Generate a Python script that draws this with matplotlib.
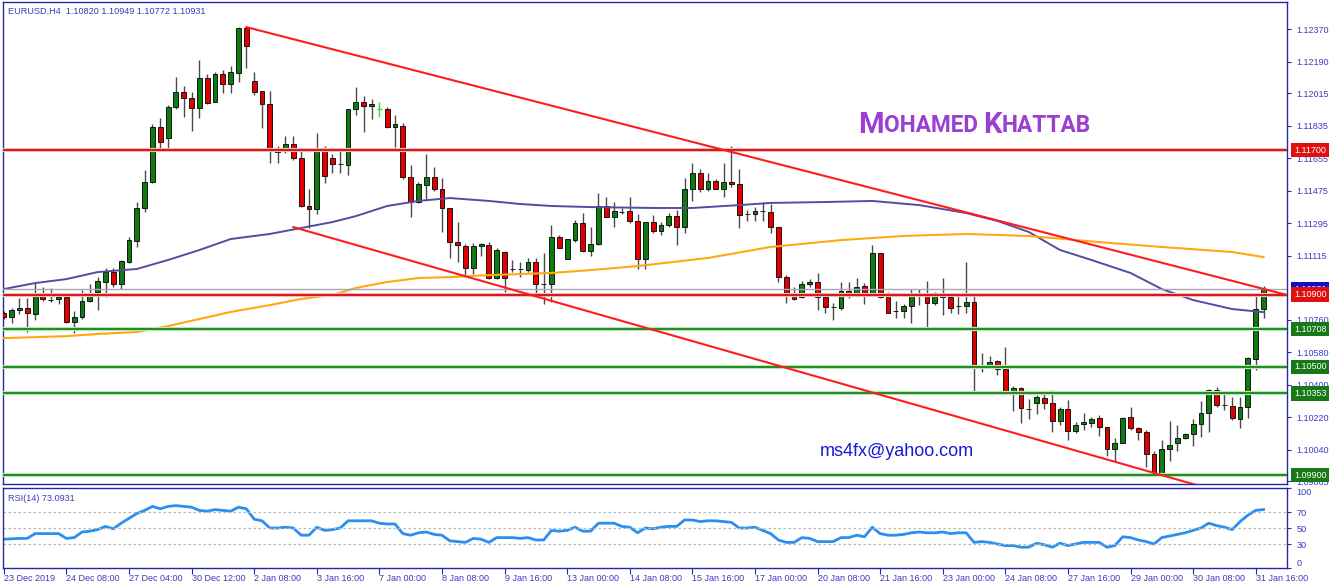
import matplotlib.pyplot as plt
import numpy as np

plt.rcParams['font.family'] = ['Liberation Sans', 'DejaVu Sans']

# EURUSD H4 candles
opens = [1.10798, 1.10776, 1.10815, 1.10826, 1.10793, 1.10903, 1.10872, 1.10876, 1.10887, 1.10748,
         1.10776, 1.10864, 1.10914, 1.10970, 1.11025, 1.10959, 1.11081, 1.11197, 1.11380, 1.11524,
         1.11828, 1.11767, 1.11939, 1.12022, 1.11989, 1.11933, 1.12100, 1.11967, 1.12122, 1.12067,
         1.12128, 1.12377, 1.12083, 1.12028, 1.11956, 1.11695, 1.11701, 1.11734, 1.11657, 1.11391,
         1.11374, 1.11712, 1.11657, 1.11625, 1.11618, 1.11928, 1.11967, 1.11945, 1.11928, 1.11928,
         1.11828, 1.11834, 1.11551, 1.11413, 1.11507, 1.11551, 1.11485, 1.11380, 1.11191, 1.11169,
         1.11047, 1.11169, 1.11175, 1.10992, 1.11136, 1.11042, 1.11041, 1.11036, 1.11081, 1.10959,
         1.10959, 1.11219, 1.11097, 1.11202, 1.11297, 1.11142, 1.11180, 1.11391, 1.11330, 1.11358,
         1.11363, 1.11308, 1.11097, 1.11302, 1.11252, 1.11285, 1.11335, 1.11274, 1.11485, 1.11574,
         1.11485, 1.11529, 1.11485, 1.11524, 1.11513, 1.11347, 1.11346, 1.11363, 1.11358, 1.11274,
         1.10997, 1.10903, 1.10887, 1.10959, 1.10970, 1.10887, 1.10832, 1.10826, 1.10920, 1.10903,
         1.10948, 1.10903, 1.11130, 1.10909, 1.10810, 1.10809, 1.10837, 1.10903, 1.10892, 1.10853,
         1.10909, 1.10887, 1.10838, 1.10837, 1.10859, 1.10505, 1.10504, 1.10532, 1.10488, 1.10355,
         1.10383, 1.10267, 1.10299, 1.10327, 1.10299, 1.10200, 1.10266, 1.10144, 1.10183, 1.10189,
         1.10216, 1.10166, 1.10045, 1.10078, 1.10222, 1.10161, 1.10139, 1.10017, 1.09912, 1.10045,
         1.10078, 1.10106, 1.10128, 1.10183, 1.10244, 1.10371, 1.10289, 1.10283, 1.10211, 1.10277,
         1.10543, 1.10820]
highs = [1.10809, 1.10826, 1.10881, 1.10881, 1.10964, 1.10942, 1.10936, 1.10887, 1.10887, 1.10809,
         1.10925, 1.10959, 1.10997, 1.11047, 1.11047, 1.11092, 1.11219, 1.11413, 1.11590, 1.11845,
         1.11878, 1.11950, 1.12105, 1.12055, 1.12022, 1.12200, 1.12122, 1.12133, 1.12144, 1.12166,
         1.12382, 1.12382, 1.12133, 1.12028, 1.12028, 1.11723, 1.11779, 1.11779, 1.11712, 1.11485,
         1.11795, 1.11723, 1.11679, 1.11706, 1.11928, 1.12050, 1.12000, 1.11983, 1.11967, 1.11939,
         1.11895, 1.11851, 1.11618, 1.11524, 1.11679, 1.11607, 1.11546, 1.11380, 1.11302, 1.11180,
         1.11186, 1.11186, 1.11191, 1.11158, 1.11142, 1.11092, 1.11081, 1.11103, 1.11103, 1.11130,
         1.11285, 1.11230, 1.11208, 1.11313, 1.11352, 1.11274, 1.11463, 1.11441, 1.11413, 1.11380,
         1.11441, 1.11346, 1.11302, 1.11341, 1.11302, 1.11352, 1.11369, 1.11546, 1.11629, 1.11596,
         1.11574, 1.11540, 1.11629, 1.11723, 1.11596, 1.11369, 1.11385, 1.11413, 1.11402, 1.11274,
         1.11008, 1.10942, 1.10975, 1.10986, 1.11020, 1.10898, 1.10853, 1.10970, 1.10970, 1.10992,
         1.10964, 1.11175, 1.11130, 1.10914, 1.10864, 1.10848, 1.10931, 1.10931, 1.10975, 1.10914,
         1.10992, 1.10909, 1.10909, 1.11081, 1.10903, 1.10576, 1.10560, 1.10538, 1.10610, 1.10394,
         1.10388, 1.10321, 1.10343, 1.10349, 1.10371, 1.10277, 1.10316, 1.10194, 1.10244, 1.10222,
         1.10233, 1.10166, 1.10106, 1.10222, 1.10277, 1.10166, 1.10150, 1.10033, 1.10094, 1.10200,
         1.10178, 1.10133, 1.10211, 1.10310, 1.10377, 1.10388, 1.10349, 1.10332, 1.10332, 1.10554,
         1.10903, 1.10949]
lows = [1.10765, 1.10743, 1.10793, 1.10693, 1.10759, 1.10864, 1.10859, 1.10848, 1.10743, 1.10687,
        1.10765, 1.10859, 1.10815, 1.10887, 1.10942, 1.10931, 1.11075, 1.11164, 1.11358, 1.11518,
        1.11706, 1.11706, 1.11928, 1.11884, 1.11806, 1.11878, 1.11956, 1.11967, 1.12017, 1.12017,
        1.12078, 1.12155, 1.12006, 1.11823, 1.11629, 1.11629, 1.11684, 1.11646, 1.11385, 1.11269,
        1.11346, 1.11518, 1.11574, 1.11574, 1.11563, 1.11895, 1.11801, 1.11873, 1.11884, 1.11823,
        1.11718, 1.11540, 1.11330, 1.11407, 1.11430, 1.11474, 1.11247, 1.11103, 1.11081, 1.11008,
        1.11014, 1.11114, 1.10986, 1.10986, 1.10914, 1.11025, 1.10997, 1.11025, 1.10909, 1.10848,
        1.10859, 1.11158, 1.11097, 1.11191, 1.11136, 1.11114, 1.11175, 1.11330, 1.11274, 1.11346,
        1.11297, 1.11042, 1.11042, 1.11241, 1.11230, 1.11274, 1.11175, 1.11241, 1.11419, 1.11468,
        1.11474, 1.11485, 1.11441, 1.11496, 1.11269, 1.11308, 1.11308, 1.11308, 1.11241, 1.10970,
        1.10853, 1.10870, 1.10881, 1.10942, 1.10815, 1.10798, 1.10759, 1.10815, 1.10881, 1.10898,
        1.10848, 1.10898, 1.10881, 1.10798, 1.10770, 1.10770, 1.10743, 1.10842, 1.10704, 1.10842,
        1.10787, 1.10798, 1.10793, 1.10798, 1.10360, 1.10471, 1.10499, 1.10455, 1.10355, 1.10255,
        1.10189, 1.10211, 1.10238, 1.10266, 1.10139, 1.10178, 1.10094, 1.10133, 1.10150, 1.10166,
        1.10117, 1.10006, 1.09978, 1.10078, 1.10150, 1.10094, 1.09945, 1.09912, 1.09912, 1.09978,
        1.10033, 1.10100, 1.10061, 1.10111, 1.10139, 1.10277, 1.10261, 1.10205, 1.10161, 1.10216,
        1.10482, 1.10772]
closes = [1.10776, 1.10815, 1.10826, 1.10798, 1.10903, 1.10876, 1.10870, 1.10887, 1.10748, 1.10776,
          1.10864, 1.10909, 1.10975, 1.11025, 1.10959, 1.11086, 1.11202, 1.11380, 1.11524, 1.11828,
          1.11745, 1.11939, 1.12022, 1.11989, 1.11933, 1.12100, 1.11961, 1.12122, 1.12067, 1.12133,
          1.12377, 1.12277, 1.12022, 1.11956, 1.11695, 1.11692, 1.11734, 1.11657, 1.11391, 1.11374,
          1.11712, 1.11557, 1.11623, 1.11623, 1.11928, 1.11967, 1.11945, 1.11956, 1.11928, 1.11828,
          1.11845, 1.11551, 1.11413, 1.11513, 1.11551, 1.11485, 1.11380, 1.11191, 1.11175, 1.11047,
          1.11169, 1.11180, 1.10992, 1.11147, 1.10992, 1.11041, 1.11040, 1.11081, 1.10959, 1.10958,
          1.11219, 1.11158, 1.11208, 1.11297, 1.11142, 1.11180, 1.11391, 1.11330, 1.11363, 1.11357,
          1.11308, 1.11097, 1.11302, 1.11252, 1.11285, 1.11335, 1.11274, 1.11485, 1.11574, 1.11485,
          1.11529, 1.11485, 1.11524, 1.11513, 1.11341, 1.11346, 1.11363, 1.11362, 1.11274, 1.10997,
          1.10903, 1.10876, 1.10959, 1.10970, 1.10887, 1.10831, 1.10831, 1.10920, 1.10903, 1.10942,
          1.10903, 1.11130, 1.10887, 1.10798, 1.10809, 1.10837, 1.10903, 1.10892, 1.10853, 1.10909,
          1.10887, 1.10826, 1.10837, 1.10859, 1.10504, 1.10504, 1.10527, 1.10488, 1.10355, 1.10383,
          1.10272, 1.10266, 1.10332, 1.10299, 1.10200, 1.10266, 1.10144, 1.10178, 1.10194, 1.10211,
          1.10166, 1.10045, 1.10078, 1.10216, 1.10161, 1.10139, 1.10017, 1.09912, 1.10045, 1.10067,
          1.10106, 1.10128, 1.10183, 1.10244, 1.10371, 1.10288, 1.10288, 1.10216, 1.10277, 1.10549,
          1.10820, 1.10931]

# moving averages (sampled along the line)
ma_slow_bars = [0, 4, 8, 12, 17, 21, 25, 29, 34, 38, 42, 45, 49, 53, 57, 62, 66, 70, 75, 83, 88, 94,
                98, 105, 111, 117, 123, 127, 131, 135, 139, 144, 148, 152, 157, 161]
ma_slow = [1.10931, 1.10964, 1.10986, 1.11025, 1.11042, 1.11092, 1.11147, 1.11208, 1.11236, 1.11269,
           1.11302, 1.11335, 1.11391, 1.11419, 1.11435, 1.11419, 1.11402, 1.11391, 1.11385, 1.11380,
           1.11380, 1.11396, 1.11408, 1.11413, 1.11419, 1.11396, 1.11352, 1.11308, 1.11247, 1.11147,
           1.11092, 1.11020, 1.10931, 1.10870, 1.10820, 1.10803]
ma_long_bars = [0, 8, 12, 17, 21, 25, 29, 34, 38, 42, 45, 49, 53, 57, 62, 66, 70, 75, 81, 90, 98, 107,
                115, 123, 131, 140, 148, 157, 161]
ma_long = [1.10659, 1.10670, 1.10682, 1.10693, 1.10726, 1.10765, 1.10804, 1.10842, 1.10876, 1.10898,
           1.10937, 1.10970, 1.10992, 1.10997, 1.11008, 1.11014, 1.11020, 1.11036, 1.11058, 1.11103,
           1.11164, 1.11202, 1.11225, 1.11236, 1.11225, 1.11191, 1.11164, 1.11136, 1.11108]

rsi = [36, 36.5, 37, 37, 43, 43, 43, 43, 37, 38, 45, 46, 48, 52, 49, 56, 62, 68, 72, 77,
       74, 77, 78, 77, 76, 72, 71, 73, 72, 71, 76, 74, 61, 59, 50, 50, 51, 50, 41, 41,
       51, 47, 48, 50, 59, 59, 59, 59, 56, 55, 55, 43, 41, 44, 45, 42, 41, 34, 33, 32,
       37, 36, 32, 38, 38, 38, 37, 38, 35, 35, 47, 46, 47, 51, 46, 46, 56, 56, 56, 52,
       51, 44, 50, 49, 51, 52, 52, 60, 60, 58, 59, 59, 58, 57, 50, 50, 51, 47, 43, 35,
       32, 32, 38, 37, 33, 33, 33, 38, 38, 41, 39, 51, 43, 41, 41, 42, 44, 45, 44, 44,
       45, 43, 44, 44, 32, 33, 32, 30, 28, 28, 26, 26, 31, 29, 26, 31, 28, 30, 32, 32,
       32, 26, 28, 39, 38, 35, 33, 30, 38, 40, 42, 44, 47, 50, 56, 53, 51, 48, 58, 66,
       72, 73.09]

trend_top_bars = [31, 165]
trend_top = [1.12382, 1.10887]
trend_bottom_bars = [37, 156]
trend_bottom = [1.11274, 1.09801]

red_levels = [1.11700, 1.10900]
green_levels = [1.10708, 1.10500, 1.10353, 1.09900]
bid = 1.10931

price_ticks = [1.12370, 1.12190, 1.12015, 1.11835, 1.11655, 1.11475, 1.11295, 1.11115,
               1.10760, 1.10580, 1.10400, 1.10220, 1.10040, 1.09865]
date_tick_bars = list(range(0, 161, 8))
date_labels = ['23 Dec 2019', '24 Dec 08:00', '27 Dec 04:00', '30 Dec 12:00', '2 Jan 08:00',
               '3 Jan 16:00', '7 Jan 00:00', '8 Jan 08:00', '9 Jan 16:00', '13 Jan 00:00',
               '14 Jan 08:00', '15 Jan 16:00', '17 Jan 00:00', '20 Jan 08:00', '21 Jan 16:00',
               '23 Jan 00:00', '24 Jan 08:00', '27 Jan 16:00', '29 Jan 00:00', '30 Jan 08:00',
               '31 Jan 16:00']
rsi_ticks = [100, 70, 50, 30, 0]

axis_blue = '#2626a8'
text_blue = '#3a3ac0'

fig = plt.figure(figsize=(13.32, 5.88), dpi=100)
ax = fig.add_axes([3/1332, 1-484/588, 1284/1332, 482/588])
ax2 = fig.add_axes([3/1332, 1-568/588, 1284/1332, 80/588])

# candles
x = np.arange(len(opens))
o = np.array(opens); h = np.array(highs); l = np.array(lows); c = np.array(closes)
up = c > o
down = c < o
flat = c == o
ax.vlines(x[~flat], l[~flat], h[~flat], color='#4a4a4a', lw=1, zorder=2)
ax.bar(x[up], c[up]-o[up], bottom=o[up], width=0.62, color='#0f7a0f', edgecolor='black', lw=0.6, zorder=3)
ax.bar(x[down], c[down]-o[down], bottom=o[down], width=0.62, color='#e00000', edgecolor='black', lw=0.6, zorder=3)
ax.vlines(x[flat], l[flat], h[flat], color='#33dd33', lw=1, zorder=3)
ax.hlines(o[flat], x[flat]-0.31, x[flat]+0.31, color='#33dd33', lw=1, zorder=3)

# moving averages
ax.plot(ma_slow_bars, ma_slow, color='#554c9e', lw=1.4, zorder=4)
ax.plot(ma_long_bars, ma_long, color='#ffa812', lw=1.5, zorder=4)

# levels
ax.axhline(bid, color='#a8a8b8', lw=1, zorder=4)
for p in red_levels:
    ax.axhline(p, color='#f4b8b8', lw=3, zorder=4)
    ax.axhline(p, color='#d01818', lw=1.4, zorder=5)
for p in green_levels:
    ax.axhline(p, color='#b8e6b8', lw=3, zorder=4)
    ax.axhline(p, color='#1f8a1f', lw=1.4, zorder=5)

# channel lines
ax.plot(trend_top_bars, trend_top, color='#ff1c1c', lw=1.5, zorder=6)
ax.plot(trend_bottom_bars, trend_bottom, color='#ff1c1c', lw=1.5, zorder=6)

ax.set_xlim(-0.1, 164)
ax.set_ylim(1.09851, 1.12521)
ax.set_xticks([])
ax.yaxis.tick_right()
ax.set_yticks(price_ticks)
ax.set_yticklabels(['%.5f' % p for p in price_ticks])
ax.tick_params(axis='y', colors=axis_blue, labelcolor=text_blue, labelsize=6.5, length=3, width=0.8, pad=4)
for s in ax.spines.values():
    s.set_color(axis_blue)
    s.set_linewidth(1)

# price boxes on the right scale
ytr = ax.get_yaxis_transform()
box_items = [(bid, '#1010c8')] + [(p, '#e01010') for p in red_levels] + [(p, '#187818') for p in green_levels]
for k, (p, col) in enumerate(box_items):
    ax.annotate('%.5f' % p, xy=(1, p), xycoords=ytr, xytext=(7, 0), textcoords='offset pixels',
                color='white', fontsize=6.5, va='center', ha='left', annotation_clip=False,
                bbox=dict(boxstyle='square,pad=0.3', fc=col, ec='none'), zorder=10+k)

fig.text(8/1332, 1-11/588, 'EURUSD,H4  1.10820 1.10949 1.10772 1.10931', color=text_blue,
         fontsize=6.6, va='center', ha='left')

# signature
t = fig.text(858/1332, 1-133/588, 'M', color='#9a3fd0', fontsize=21, family='Roboto',
             weight='bold', va='baseline', ha='left')
for s, size, dy in [('OHAMED ', 16.3, 1.7), ('K', 21, -1.7), ('HATTAB', 16.3, 1.7)]:
    t = ax.annotate(s, xy=(1, 0), xycoords=t, xytext=(0, dy), textcoords='offset pixels',
                    color='#9a3fd0', fontsize=size, family='Roboto', weight='bold',
                    va='bottom', ha='left', annotation_clip=False)

fig.text(897/1332, 1-452/588, 'ms4fx@yahoo.com', color='#1a1ad8', fontsize=13,
         va='center', ha='center')

# RSI panel
ax2.plot(x, rsi, color='#2a8ff0', lw=2)
for lev in [70, 50, 30]:
    ax2.axhline(lev, color='#b8b8b8', lw=0.9, ls=(0, (2, 2)))
ax2.set_xlim(-0.1, 164)
ax2.set_ylim(0, 100)
ax2.yaxis.tick_right()
ax2.set_yticks(rsi_ticks)
ax2.set_yticklabels([str(v) for v in rsi_ticks])
ax2.tick_params(axis='y', colors=axis_blue, labelcolor=text_blue, labelsize=6.6, length=3, width=0.8, pad=4)
ylabs = ax2.get_yticklabels()
ylabs[0].set_va('top')
ylabs[-1].set_va('bottom')
ax2.set_xticks(date_tick_bars)
ax2.set_xticklabels(date_labels)
ax2.tick_params(axis='x', colors=axis_blue, labelcolor=text_blue, labelsize=6.5, length=4, width=0.8, pad=0.5)
for lab in ax2.get_xticklabels():
    lab.set_ha('left')
for s in ax2.spines.values():
    s.set_color(axis_blue)
    s.set_linewidth(1)
ax2.text(5/1284, 0.92, 'RSI(14) 73.0931', transform=ax2.transAxes, color=text_blue,
         fontsize=6.6, va='top', ha='left')

fig.savefig('out.png', dpi=100)
